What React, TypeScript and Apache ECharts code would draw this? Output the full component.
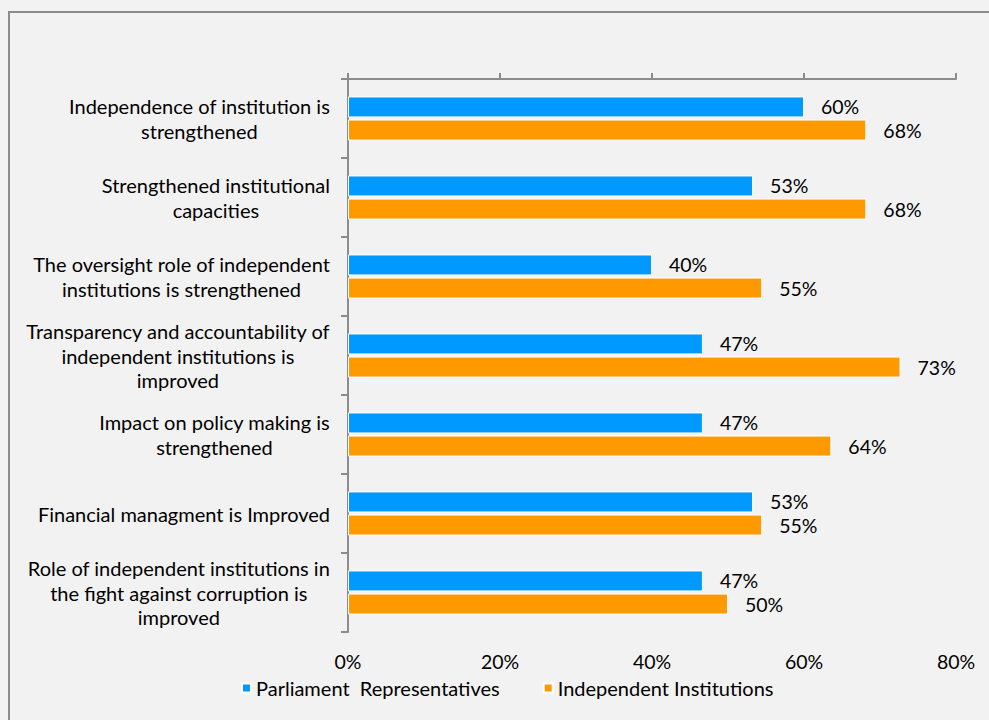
import React, { useEffect, useRef } from "react";
import * as echarts from "echarts";

const categories = [
  "Independence of institution is\nstrengthened",
  "Strengthened institutional\ncapacities",
  "The oversight role of independent\ninstitutions is strengthened",
  "Transparency and accountability of\nindependent institutions is\nimproved",
  "Impact on policy making is\nstrengthened",
  "Financial managment is Improved",
  "Role of independent institutions in\nthe fight against corruption is\nimproved",
];
const parliament = [60, 53.3, 40, 46.7, 46.7, 53.3, 46.7];
const institutions = [68.2, 68.2, 54.5, 72.7, 63.6, 54.5, 50];
const seriesNames = ["Parliament  Representatives", "Independent Institutions"];
const xTicks = [0, 20, 40, 60, 80];

const FONT = "Lato";
const AXIS = "#8c8c8c";
const FS = 20;

export default function App() {
  const ref = useRef<HTMLDivElement>(null);
  useEffect(() => {
    const chart = echarts.init(ref.current!, null, { renderer: "svg" });
    const labelStyle = {
      show: true,
      position: "right" as const,
      distance: 17,
      fontFamily: FONT,
      fontSize: 19.5,
      color: "#000",
      formatter: (p: any) => Math.round(p.value) + "%",
    };
    chart.setOption({
      animation: false,
      backgroundColor: "#f2f2f2",
      textStyle: { fontFamily: FONT },
      graphic: [
        {
          type: "rect",
          shape: { x: 9, y: 12, width: 1100, height: 900 },
          style: { fill: "none", stroke: AXIS, lineWidth: 2 },
          silent: true,
        },
      ],
      grid: { left: 348, right: 33, top: 79, bottom: 88, containLabel: false },
      legend: {
        bottom: 17,
        left: 236,
        icon: "rect",
        itemWidth: 9,
        itemHeight: 9,
        itemGap: 43,
        textStyle: { fontFamily: FONT, fontSize: FS, color: "#000" },
        data: seriesNames,
      },
      xAxis: [
        {
          type: "value",
          position: "top",
          min: xTicks[0],
          max: xTicks[xTicks.length - 1],
          interval: 20,
          axisLine: { show: true, lineStyle: { color: AXIS, width: 2 } },
          axisTick: { show: true, length: 6, lineStyle: { color: AXIS, width: 2 } },
          axisLabel: { show: false },
          splitLine: { show: false },
        },
        {
          type: "value",
          position: "bottom",
          min: xTicks[0],
          max: xTicks[xTicks.length - 1],
          interval: 20,
          axisLine: { show: false },
          axisTick: { show: false },
          axisLabel: {
            show: true,
            margin: 19,
            fontFamily: FONT,
            fontSize: 19.5,
            color: "#000",
            formatter: (v: number) => v + "%",
          },
          splitLine: { show: false },
        },
      ],
      yAxis: {
        type: "category",
        inverse: true,
        data: categories,
        axisLine: { show: true, lineStyle: { color: AXIS, width: 2 } },
        axisTick: { show: true, length: 7, lineStyle: { color: AXIS, width: 2 } },
        axisLabel: {
          margin: 18,
          fontFamily: FONT,
          fontSize: FS,
          color: "#000",
          lineHeight: 24.5,
          formatter: (v: string) =>
            v
              .split("\n")
              .map((l) => "{c|" + l + "}")
              .join("\n"),
          rich: {
            c: {
              align: "center",
              fontFamily: FONT,
              fontSize: FS,
              color: "#000",
              lineHeight: 24.5,
            },
          },
        },
      },
      series: [
        {
          name: seriesNames[0],
          type: "bar",
          xAxisIndex: 0,
          data: parliament,
          barWidth: 21,
          barGap: "10%",
          itemStyle: { color: "#0099ff", borderColor: "#ffffff", borderWidth: 1 },
          label: labelStyle,
        },
        {
          name: seriesNames[1],
          type: "bar",
          xAxisIndex: 0,
          data: institutions,
          barWidth: 21,
          barGap: "10%",
          itemStyle: { color: "#ff9900", borderColor: "#ffffff", borderWidth: 1 },
          label: labelStyle,
        },
      ],
    });
    return () => chart.dispose();
  }, []);
  return (
    <div
      ref={ref}
      style={{ position: "fixed", left: 0, top: 0, width: 989, height: 720 }}
    />
  );
}
